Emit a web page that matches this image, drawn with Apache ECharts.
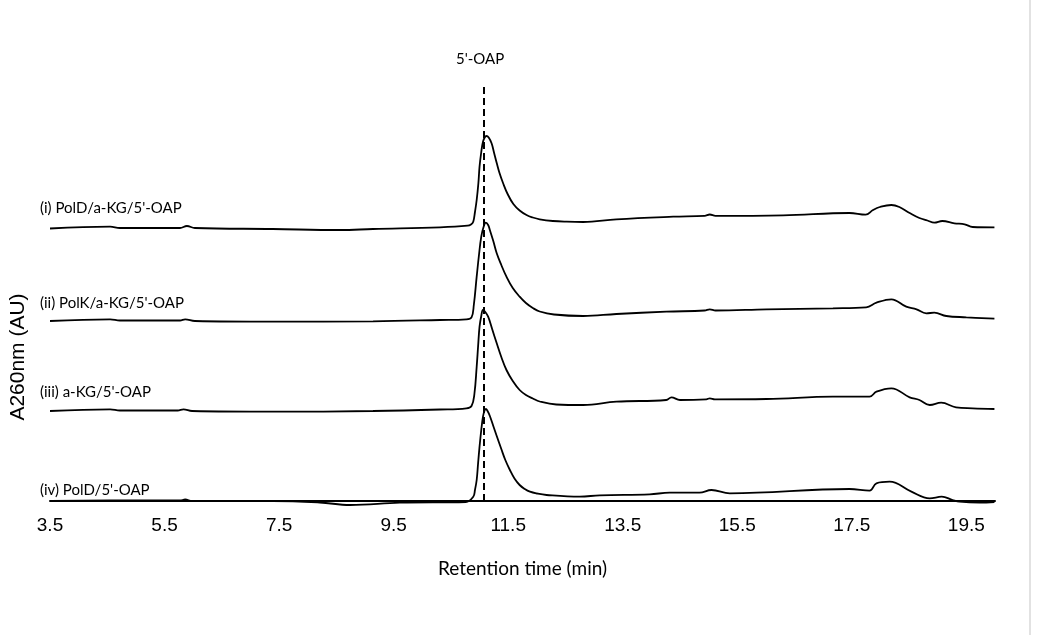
<!DOCTYPE html>
<html>
<head>
<meta charset="utf-8">
<title>HPLC traces</title>
<script src="https://cdn.jsdelivr.net/npm/echarts@6/dist/echarts.min.js"></script>
<style>
  html, body { margin: 0; padding: 0; background: #fff; }
  #chart { width: 1050px; height: 635px; }
</style>
</head>
<body>
<div id="chart"></div>
<script>
  // retention time ticks (min)
  const xTicks = [3.5, 5.5, 7.5, 9.5, 11.5, 13.5, 15.5, 17.5, 19.5]
  const peakTime = 11.08
  const peakName = "5'-OAP"

  const traceNames = [
    "(i) PolD/a-KG/5'-OAP",
    "(ii) PolK/a-KG/5'-OAP",
    "(iii) a-KG/5'-OAP",
    "(iv) PolD/5'-OAP"
  ]
  // vertical stacking offset of each trace (AU)
  const traceOffsets = [2.72, 1.80, 0.90, 0]

  // [time, A260], relative to each trace's baseline
  const traceI = [
    [3.50, 0.005], [4.55, 0.023], [4.72, 0.01], [5.77, 0.01], [5.89, 0.03], [6.03, 0.01],
    [7.39, 0], [8.56, -0.01], [9.14, 0], [10.31, 0.017], [10.79, 0.033], [10.85, 0.045],
    [10.89, 0.073], [10.92, 0.17], [10.95, 0.29], [10.98, 0.46], [11.00, 0.623],
    [11.03, 0.77], [11.06, 0.873], [11.09, 0.915], [11.12, 0.93], [11.16, 0.915],
    [11.21, 0.857], [11.25, 0.77], [11.30, 0.66], [11.35, 0.557], [11.41, 0.46],
    [11.49, 0.35], [11.59, 0.25], [11.70, 0.185], [11.82, 0.14], [11.93, 0.115],
    [12.05, 0.097], [12.28, 0.08], [12.52, 0.073], [12.81, 0.07], [13.39, 0.097],
    [14.38, 0.123], [14.93, 0.132], [15.02, 0.145], [15.12, 0.132], [16.30, 0.137],
    [17.46, 0.16], [17.74, 0.143], [17.87, 0.19], [17.99, 0.22], [18.19, 0.24],
    [18.33, 0.22], [18.51, 0.16], [18.68, 0.11], [18.82, 0.085], [18.94, 0.063],
    [19.08, 0.08], [19.29, 0.057], [19.47, 0.047], [19.61, 0.02], [19.99, 0.017]
  ]
  const traceII = [
    [3.50, 0], [4.55, 0.017], [4.72, 0.005], [5.77, 0.005], [5.86, 0.017], [6.03, 0],
    [7.39, -0.007], [9.14, -0.003], [10.31, 0.01], [10.77, 0.017], [10.86, 0.037],
    [10.90, 0.16], [10.95, 0.443], [10.99, 0.66], [11.03, 0.843], [11.07, 0.94],
    [11.11, 0.983], [11.15, 0.96], [11.18, 0.91], [11.24, 0.80], [11.30, 0.677],
    [11.38, 0.56], [11.47, 0.443], [11.58, 0.33], [11.70, 0.243], [11.81, 0.18],
    [11.93, 0.13], [12.05, 0.095], [12.30, 0.065], [12.81, 0.05], [13.39, 0.07],
    [14.26, 0.093], [14.93, 0.105], [15.02, 0.117], [15.12, 0.105], [16.01, 0.117],
    [17.17, 0.127], [17.75, 0.137], [17.93, 0.183], [18.19, 0.217], [18.45, 0.143],
    [18.63, 0.117], [18.80, 0.077], [18.94, 0.083], [19.15, 0.05], [19.50, 0.037],
    [19.99, 0.023]
  ]
  const traceIII = [
    [3.50, 0], [4.55, 0.017], [4.72, 0.005], [5.73, 0.005], [5.83, 0.017], [5.98, 0],
    [7.40, -0.007], [9.14, 0], [10.31, 0.015], [10.77, 0.027], [10.86, 0.05],
    [10.91, 0.17], [10.95, 0.443], [10.975, 0.65], [11.00, 0.843], [11.03, 0.95],
    [11.06, 1.01], [11.10, 0.99], [11.15, 0.943], [11.22, 0.82], [11.30, 0.677],
    [11.38, 0.54], [11.47, 0.41], [11.58, 0.30], [11.70, 0.21], [11.81, 0.16],
    [11.93, 0.125], [12.05, 0.095], [12.34, 0.065], [12.81, 0.06], [13.39, 0.093],
    [14.26, 0.11], [14.35, 0.137], [14.50, 0.11], [14.96, 0.117], [15.02, 0.127],
    [15.11, 0.117], [16.01, 0.12], [17.17, 0.143], [17.81, 0.143], [17.93, 0.193],
    [18.19, 0.227], [18.51, 0.137], [18.68, 0.11], [18.86, 0.06], [19.06, 0.083],
    [19.32, 0.037], [19.61, 0.027], [19.99, 0.02]
  ]
  const traceIV = [
    [3.50, 0], [4.55, 0.005], [5.77, 0.005], [5.86, 0.015], [5.98, 0], [7.39, 0],
    [8.21, -0.015], [8.74, -0.04], [9.61, -0.017], [10.76, -0.01], [10.89, 0.043],
    [10.92, 0.11], [10.95, 0.21], [10.975, 0.38], [11.00, 0.543], [11.03, 0.71],
    [11.06, 0.843], [11.085, 0.90], [11.11, 0.92], [11.14, 0.90], [11.18, 0.85],
    [11.24, 0.75], [11.30, 0.65], [11.38, 0.52], [11.45, 0.41], [11.53, 0.31],
    [11.61, 0.225], [11.70, 0.16], [11.79, 0.12], [11.88, 0.093], [12.00, 0.075],
    [12.17, 0.06], [12.75, 0.043], [13.10, 0.057], [13.97, 0.067], [14.32, 0.083],
    [14.84, 0.083], [15.05, 0.11], [15.37, 0.077], [17.46, 0.12], [17.81, 0.103],
    [17.93, 0.177], [18.16, 0.193], [18.54, 0.093], [18.86, 0.027], [19.07, 0.043],
    [19.26, 0.01], [19.38, -0.007], [19.73, -0.017], [19.99, -0.01]
  ]
  const traces = [traceI, traceII, traceIII, traceIV]

  const labelFont = 'Lato, "Noto Sans", sans-serif'
  const labelLift = [21, 18, 19, 11]

  const dom = document.getElementById('chart')
  const chart = echarts.init(dom, null, { renderer: 'canvas' })

  let series = traces.map((tr, i) => {
    let s = {
      name: traceNames[i],
      type: 'line',
      data: tr.map(p => [p[0], p[1] + traceOffsets[i]]),
      symbol: 'none',
      smooth: 0.4,
      clip: false,
      silent: true,
      lineStyle: { color: '#000', width: 1.8 }
    }
    if (i === traces.length - 1) {
      s.markLine = {
        silent: true,
        symbol: ['none', 'none'],
        lineStyle: { color: '#000', width: 2, type: [7, 4] },
        label: {
          show: true,
          position: 'end',
          formatter: peakName,
          distance: 16,
          offset: [-4, 0],
          color: '#000',
          fontSize: 15,
          fontFamily: labelFont
        },
        data: [[{ coord: [peakTime, 0] }, { coord: [peakTime, 4.18] }]]
      }
    }
    return s
  })

  let option = {
    animation: false,
    backgroundColor: '#fff',
    grid: { left: 50, right: 55, top: 51, bottom: 134 },
    xAxis: {
      type: 'value',
      min: 3.5,
      max: 20,
      name: 'Retention time (min)',
      nameLocation: 'middle',
      nameGap: 58,
      nameTextStyle: { color: '#000', fontSize: 19, fontFamily: labelFont },
      axisLine: { lineStyle: { color: '#000', width: 2 } },
      axisTick: { show: false },
      splitLine: { show: false },
      axisLabel: {
        customValues: xTicks,
        formatter: v => v.toFixed(1),
        color: '#000',
        fontSize: 19,
        margin: 15,
        fontFamily: '"Liberation Sans", Arial, sans-serif'
      }
    },
    yAxis: {
      type: 'value',
      min: 0,
      max: 4.5,
      show: false
    },
    series: series
  }
  chart.setOption(option)

  // trace captions and y title placed from the axes' own scale
  let graphics = traceNames.map((name, i) => {
    let p = chart.convertToPixel({ gridIndex: 0 }, [xTicks[0], traceOffsets[i]])
    return {
      type: 'text',
      x: p[0] - 10,
      y: p[1] - labelLift[i],
      style: {
        text: name,
        fill: '#000',
        font: '15px ' + labelFont,
        textAlign: 'left',
        textVerticalAlign: 'middle'
      }
    }
  })
  graphics.push({
    type: 'text',
    x: 18,
    y: 357,
    rotation: Math.PI / 2,
    style: {
      text: 'A260nm (AU)',
      fill: '#000',
      font: '21px "Liberation Sans", Arial, sans-serif',
      textAlign: 'center',
      textVerticalAlign: 'middle'
    }
  })
  graphics.push({
    type: 'rect',
    shape: { x: 1029, y: 0, width: 2, height: 635 },
    style: { fill: '#e2e2e2' }
  })
  chart.setOption({ graphic: graphics })

  window.addEventListener('resize', chart.resize)
</script>
</body>
</html>
